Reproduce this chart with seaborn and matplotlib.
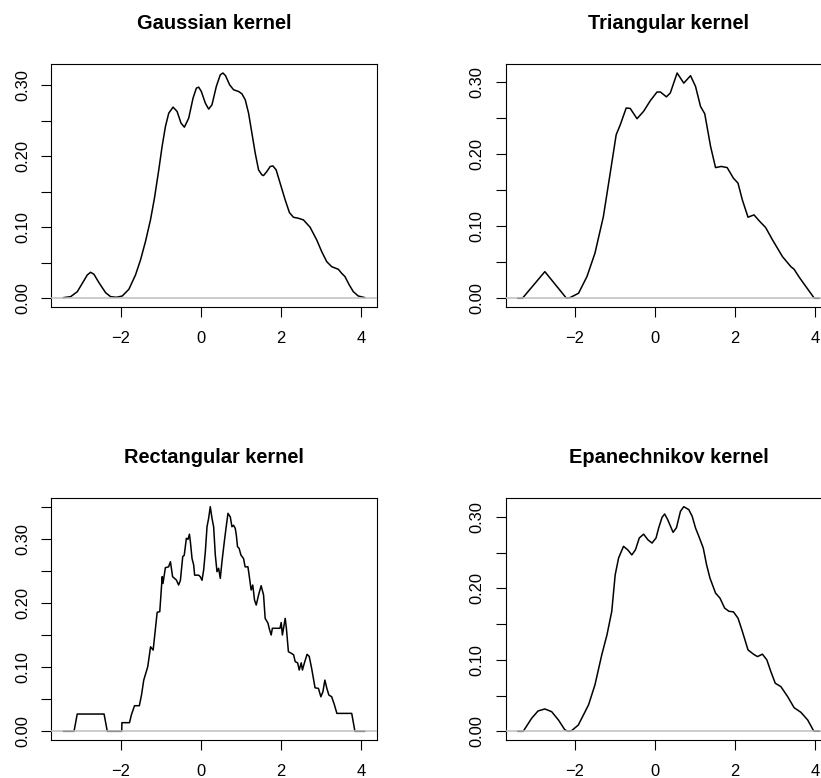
import numpy as np
import matplotlib
matplotlib.use("Agg")
import matplotlib.pyplot as plt
import seaborn as sns

# ---------------- data ----------------
titles = ["Gaussian kernel", "Triangular kernel", "Rectangular kernel", "Epanechnikov kernel"]
x_ticks = [-2, 0, 2, 4]

gauss_x = [-3.426, -3.244, -3.078, -2.953, -2.829, -2.746, -2.663, -2.538, -2.372, -2.248,
           -2.099, -1.957, -1.792, -1.626, -1.501, -1.377, -1.252, -1.153, -1.045, -0.962,
           -0.879, -0.796, -0.688, -0.588, -0.489, -0.406, -0.298, -0.190, -0.107, -0.049,
           0.017, 0.117, 0.200, 0.283, 0.391, 0.490, 0.557, 0.623, 0.723, 0.822,
           0.947, 1.030, 1.113, 1.196, 1.279, 1.362, 1.445, 1.528, 1.569, 1.652,
           1.735, 1.802, 1.884, 1.984, 2.109, 2.216, 2.316, 2.440, 2.565, 2.731,
           2.897, 3.021, 3.146, 3.270, 3.436, 3.519, 3.602, 3.710, 3.810, 3.934, 4.100]
gauss_y = [0.0009, 0.0023, 0.0093, 0.0211, 0.0328, 0.0366, 0.0338, 0.0220, 0.0079, 0.0023,
           0.0014, 0.0032, 0.0126, 0.0328, 0.0539, 0.0798, 0.1103, 0.1408, 0.1807, 0.2136,
           0.2417, 0.2605, 0.2690, 0.2629, 0.2464, 0.2408, 0.2535, 0.2816, 0.2957, 0.2971,
           0.2910, 0.2746, 0.2662, 0.2723, 0.2981, 0.3145, 0.3170, 0.3131, 0.3004, 0.2934,
           0.2910, 0.2877, 0.2793, 0.2605, 0.2324, 0.2042, 0.1807, 0.1737, 0.1727, 0.1784,
           0.1854, 0.1863, 0.1807, 0.1619, 0.1385, 0.1206, 0.1140, 0.1126, 0.1103, 0.1000,
           0.0821, 0.0657, 0.0516, 0.0445, 0.0408, 0.0352, 0.0305, 0.0187, 0.0093, 0.0032, 0.0009]

tri_x = [-3.43, -3.31, -2.75, -2.21, -2.12, -1.91, -1.70, -1.50, -1.29, -1.12,
         -0.97, -0.87, -0.72, -0.62, -0.45, -0.285, -0.118, 0.05, 0.134, 0.283,
         0.38, 0.551, 0.717, 0.885, 1.01, 1.135, 1.24, 1.386, 1.51, 1.654,
         1.80, 1.955, 2.07, 2.18, 2.32, 2.47, 2.60, 2.76, 2.93, 3.18,
         3.39, 3.47, 3.60, 3.975, 4.10]
tri_y = [0.0, 0.0, 0.0369, 0.0, 0.001, 0.0069, 0.030, 0.0624, 0.113, 0.173,
         0.2265, 0.240, 0.2635, 0.263, 0.2487, 0.259, 0.2737, 0.2857, 0.2857, 0.279,
         0.2843, 0.312, 0.298, 0.3083, 0.2935, 0.2657, 0.2556, 0.2103, 0.181, 0.1826,
         0.181, 0.1664, 0.1595, 0.136, 0.1123, 0.1155, 0.1072, 0.098, 0.081, 0.0577,
         0.0438, 0.0402, 0.029, 0.0, 0.0]

rect_x = [-3.43, -3.16, -3.08, -2.41, -2.33, -1.97, -1.965, -1.775, -1.73, -1.65,
          -1.53, -1.476, -1.42, -1.32, -1.25, -1.185, -1.085, -1.02, -0.96, -0.94,
          -0.88, -0.80, -0.754, -0.70, -0.605, -0.55, -0.505, -0.447, -0.41, -0.356,
          -0.315, -0.28, -0.256, -0.215, -0.174, -0.15, -0.05, -0.01, 0.034, 0.075,
          0.117, 0.159, 0.20, 0.24, 0.283, 0.324, 0.366, 0.408, 0.449, 0.49,
          0.532, 0.59, 0.632, 0.682, 0.74, 0.78, 0.82, 0.864, 0.89, 0.92,
          0.96, 1.005, 1.07, 1.11, 1.18, 1.21, 1.26, 1.30, 1.345, 1.387,
          1.445, 1.51, 1.57, 1.61, 1.68, 1.71, 1.76, 1.79, 1.98, 2.01,
          2.04, 2.11, 2.14, 2.19, 2.26, 2.32, 2.36, 2.42, 2.46, 2.51,
          2.54, 2.59, 2.656, 2.71, 2.77, 2.855, 2.94, 3.00, 3.05, 3.10,
          3.15, 3.20, 3.27, 3.34, 3.40, 3.77, 3.85, 4.10]
rect_y = [0.0, 0.0, 0.027, 0.027, 0.0, 0.0, 0.0135, 0.0135, 0.0255, 0.040,
          0.040, 0.0567, 0.080, 0.101, 0.132, 0.127, 0.186, 0.187, 0.2416, 0.231,
          0.2557, 0.257, 0.265, 0.2416, 0.2364, 0.2286, 0.236, 0.273, 0.275, 0.3016,
          0.300, 0.308, 0.296, 0.270, 0.260, 0.244, 0.244, 0.2416, 0.236, 0.252,
          0.2806, 0.3197, 0.333, 0.351, 0.333, 0.3197, 0.2755, 0.2494, 0.2547, 0.239,
          0.265, 0.296, 0.317, 0.3406, 0.335, 0.3197, 0.322, 0.317, 0.3067, 0.2885,
          0.2859, 0.2755, 0.270, 0.257, 0.257, 0.244, 0.2208, 0.2286, 0.205, 0.1973,
          0.213, 0.2275, 0.213, 0.1765, 0.169, 0.161, 0.1505, 0.161, 0.161, 0.170,
          0.1505, 0.1765, 0.161, 0.1244, 0.122, 0.1195, 0.1088, 0.107, 0.0958, 0.107,
          0.0958, 0.107, 0.1203, 0.117, 0.0984, 0.068, 0.067, 0.054, 0.0614, 0.080,
          0.067, 0.0567, 0.054, 0.041, 0.028, 0.028, 0.0, 0.0]

epan_x = [-3.43, -3.29, -3.08, -2.92, -2.75, -2.58, -2.41, -2.25, -2.165, -2.08,
          -1.915, -1.66, -1.50, -1.33, -1.20, -1.08, -0.995, -0.91, -0.787, -0.68,
          -0.58, -0.49, -0.393, -0.285, -0.176, -0.075, 0.025, 0.09, 0.175, 0.24,
          0.316, 0.45, 0.534, 0.634, 0.717, 0.842, 0.927, 1.01, 1.093, 1.203,
          1.286, 1.37, 1.51, 1.62, 1.737, 1.845, 1.955, 2.07, 2.18, 2.32,
          2.456, 2.556, 2.68, 2.79, 2.89, 3.0, 3.14, 3.31, 3.47, 3.64,
          3.81, 3.96, 4.10]
epan_y = [0.0, 0.0, 0.0182, 0.0285, 0.0313, 0.0275, 0.0158, 0.002, 0.0, 0.001,
          0.0088, 0.037, 0.065, 0.107, 0.135, 0.168, 0.219, 0.2426, 0.259, 0.254,
          0.247, 0.254, 0.2707, 0.276, 0.268, 0.2636, 0.2707, 0.2847, 0.2996, 0.3043,
          0.2963, 0.2786, 0.285, 0.308, 0.3145, 0.3104, 0.301, 0.2847, 0.273, 0.2566,
          0.2332, 0.2146, 0.1935, 0.1865, 0.1725, 0.168, 0.1673, 0.1585, 0.1397, 0.114,
          0.108, 0.1046, 0.108, 0.100, 0.0836, 0.0673, 0.0626, 0.0485, 0.0331, 0.0266,
          0.0158, 0.0004, 0.0]

series = [(gauss_x, gauss_y), (tri_x, tri_y), (rect_x, rect_y), (epan_x, epan_y)]

# ---------------- style ----------------
sns.set_style("white")
plt.rcParams["font.family"] = ["Liberation Sans", "DejaVu Sans"]
plt.rcParams["text.color"] = "black"

W, H = 821, 778
fig = plt.figure(figsize=(W / 100, H / 100), dpi=100)

# axes boxes in pixels: (left, top, width, height)
boxes = [(51.3, 64.0, 325.7, 243.3), (505.7, 64.0, 325.7, 243.3),
         (51.3, 497.7, 325.7, 242.6), (505.7, 497.7, 325.7, 242.6)]

all_x = gauss_x
xr = max(all_x) - min(all_x)
xlim = (min(all_x) - 0.04 * xr, max(all_x) + 0.04 * xr)

for (l, t, w, h), title, (xs, ys) in zip(boxes, titles, series):
    ax = fig.add_axes([l / W, 1 - (t + h) / H, w / W, h / H])
    sns.lineplot(x=xs, y=ys, ax=ax, color="black", linewidth=1.1,
                 sort=False, estimator=None, zorder=2)
    ax.axhline(0, color="#BEBEBE", linewidth=1.1, zorder=3)
    ymax = max(ys)
    ax.set_xlim(*xlim)
    ax.set_ylim(-0.04 * ymax, 1.04 * ymax)
    ax.set_xticks(x_ticks)
    ax.set_xticklabels([f"{v}".replace("-", "\u2212") for v in x_ticks])
    yt = np.arange(0, ymax + 1e-9, 0.05)
    ax.set_yticks(yt)
    ax.set_yticklabels([f"{v:.2f}" if i % 2 == 0 else "" for i, v in enumerate(yt)],
                       rotation=90, va="center")
    ax.tick_params(axis="both", which="both", direction="out", length=7.5, width=0.8,
                   color="black", labelsize=11.9, labelcolor="black",
                   bottom=True, left=True, top=False, right=False)
    ax.tick_params(axis="x", pad=9.8)
    ax.tick_params(axis="y", pad=7.5)
    for s in ax.spines.values():
        s.set_visible(True)
        s.set_color("black")
        s.set_linewidth(0.8)
    ax.set_title(title, fontsize=14.4, fontweight="bold", pad=25, color="black")
    ax.set_xlabel("")
    ax.set_ylabel("")
    ax.grid(False)

fig.savefig("out.png", dpi=100)
